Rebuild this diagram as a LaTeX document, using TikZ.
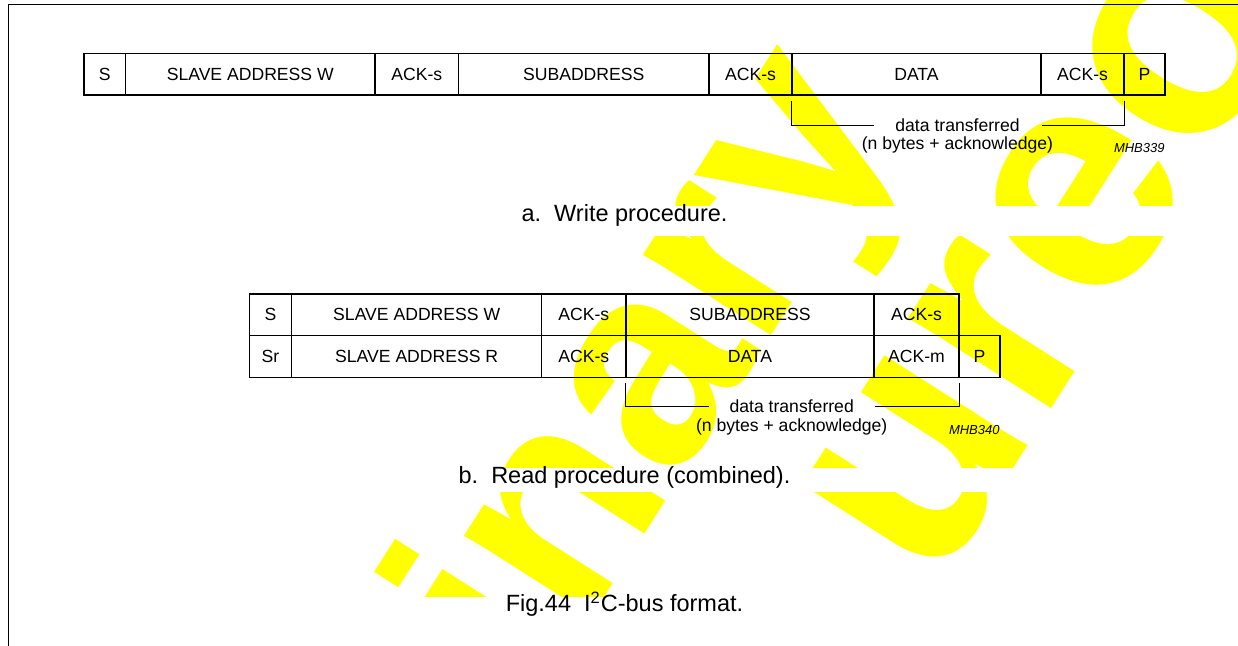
\documentclass[tikz,border=0pt]{standalone}
\usepackage{fontspec}
\setmainfont{Liberation Sans}
\definecolor{wmyellow}{RGB}{255,255,0}
\begin{document}
\begin{tikzpicture}[x=0.5pt, y=-0.5pt,
    cell/.style={draw, line width=0.55pt, inner sep=0pt, minimum height=20.85pt, font=\fontsize{8.8}{10}\selectfont},
    note/.style={inner sep=0pt, anchor=base, font=\fontsize{8.8}{10}\selectfont},
    code/.style={inner sep=0pt, anchor=base east, font=\fontsize{6.5}{8}\selectfont\itshape},
    capt/.style={inner sep=0pt, anchor=base, font=\fontsize{11.75}{14}\selectfont},
    wmark/.style={inner sep=0pt, rotate=57.5, text=wmyellow, font=\bfseries}]
    \useasboundingbox (0,0) rectangle (1238,646);

    % watermark, cut by the caption lines
    \begin{scope}
        \clip (0,0) rectangle (1238,646);
        \node [wmark, anchor=base east] (wm1) at (906,124) {\fontsize{143}{143}\selectfont Preliminary};
        \node [wmark, anchor=base west] (wm2) at (934,593) {\fontsize{160}{160}\selectfont ureo};
    \end{scope}
    \fill[white] (10,206.5) rectangle (1238,236);
    \fill[white] (10,468.3) rectangle (1238,492.3);
    \fill[white] (10,597) rectangle (1238,646);

    \draw[line width=0.6pt] (8.7,646) |- (1238,4.5);

    % a. write
    \foreach \l/\r/\t [count=\i] in {84/125.5/S, 125.5/375/SLAVE ADDRESS W, 375/458.5/ACK-s,
            458.5/709/SUBADDRESS, 709/792/ACK-s, 792/1041/DATA, 1041/1124/ACK-s, 1124/1165/P}
        \node [cell, minimum width={(\r-\l)*0.5pt}] (a\i) at ({(\l+\r)/2},74.2) {\t};
    \node [note] (at1) at (957.5,131.5) {data transferred};
    \node [note] (at2) at (957.5,150) {(n bytes + acknowledge)};
    \node [code] (m1) at (1165,153) {MHB339};
    \draw[line width=0.55pt] ([yshift=-2.5pt]a6.south west) |- ([xshift=-10.5pt]at1.west);
    \draw[line width=0.55pt] ([yshift=-2.5pt]a7.south east) |- ([xshift=11pt]at1.east);
    \node [capt] (ca) at (624.5,222) {a.\ \ Write procedure.};

    % b. read
    \foreach \l/\r/\t [count=\i] in {249.3/291.7/S, 291.7/541.7/SLAVE ADDRESS W, 541.7/626/ACK-s,
            626/874/SUBADDRESS, 874/959/ACK-s}
        \node [cell, minimum width={(\r-\l)*0.5pt}] (b\i) at ({(\l+\r)/2},314.85) {\t};
    \foreach \l/\r/\t [count=\i] in {249.3/291.7/Sr, 291.7/541.7/SLAVE ADDRESS R, 541.7/626/ACK-s,
            626/874/DATA, 874/959/ACK-m, 959/1000/P}
        \node [cell, minimum width={(\r-\l)*0.5pt}] (c\i) at ({(\l+\r)/2},356.5) {\t};
    \node [note] (bt1) at (791.7,413) {data transferred};
    \node [note] (bt2) at (791.7,431.5) {(n bytes + acknowledge)};
    \node [code] (m2) at (1000,435) {MHB340};
    \draw[line width=0.55pt] ([yshift=-2.7pt]c4.south west) |- ([xshift=-10pt]bt1.west);
    \draw[line width=0.55pt] ([yshift=-2.7pt]c5.south east) |- ([xshift=10.5pt]bt1.east);
    \node [capt] (cb) at (624.5,483.3) {b.\ \ Read procedure (combined).};

    \node [capt] (cf) at (624.5,612) {Fig.44\ \ I\textsuperscript{2}C-bus format.};
\end{tikzpicture}
\end{document}
